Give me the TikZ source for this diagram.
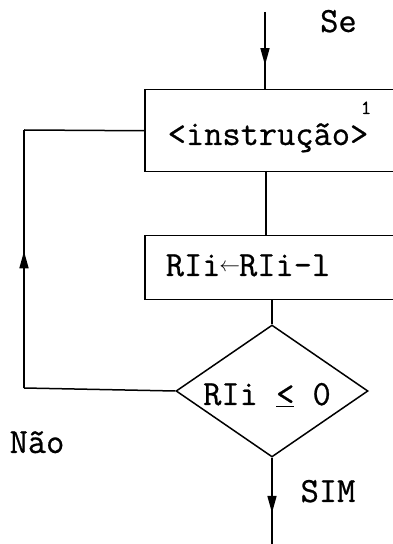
\documentclass[tikz,border=0pt]{standalone}
\usepackage{fontspec}
\newfontfamily\typer[FakeBold=0.7]{Latin Modern Mono}
\usetikzlibrary{shapes.geometric,arrows.meta,decorations.markings}
\newcommand{\assignarrow}{\makebox[0.525em]{\raisebox{0.12em}{\fontsize{20pt}{20pt}\selectfont$\leftarrow$}}}
\tikzset{
  flow/.style={line width=1.5pt},
  box/.style={draw, line width=1.5pt, rectangle, inner sep=0pt, anchor=north west},
  decision/.style={draw, line width=1.5pt, diamond, inner sep=0pt},
  txt/.style={font=\typer\fontsize{35.4pt}{38pt}\selectfont, inner sep=0pt, anchor=base},
  small/.style={font=\typer\fontsize{20pt}{22pt}\selectfont, inner sep=0pt, anchor=base},
  flowarrow/.style={postaction={decorate}, decoration={markings,
      mark=at position #1 with {\arrow{Triangle[length=17pt,width=9pt]}}}}
}
\begin{document}
\begin{tikzpicture}[x=1pt,y=1pt]
  \useasboundingbox (0,0) rectangle (393,544);
  \clip (0,0) rectangle (393,544);
  \fill[white] (0,0) rectangle (393,544);

  % blocks (they run on past the right margin)
  \node[box, minimum width=276pt, minimum height=82pt] (b1) at (144,455) {};
  \node[box, minimum width=276pt, minimum height=64pt] (b2) at (144,309) {};
  \node[decision, minimum width=192pt, minimum height=132pt] (d) at (272,153) {};

  % texts
  \node[txt, anchor=base west] (se) at (320,512) {Se};
  \node[txt] (t1) at (268,399) {<instrução>};
  \node[small] (n1) at (366,430) {1};
  \node[txt] (t2) at (248,268) {RIi\assignarrow RIi-l};
  \node[txt] (t3) at (267,139) {RIi \underline{<} 0};
  \node[txt] (nao) at (37,91) {Não};
  \node[txt] (sim) at (328,42) {SIM};

  % connectors
  \coordinate (in) at (265,532);
  \coordinate (out) at (276,0);
  \coordinate (lb) at (24,156);
  \coordinate (lt) at (24,414);

  \draw[flow, flowarrow=0.69] (in) -- (in |- b1.north);
  \draw[flow] (266,373) -- (266,309);
  \draw[flow] (d.north) -- (d.north |- b2.south);
  \draw[flow] (d.west) -- (lb);
  \draw[flow, flowarrow=0.53] (lb) -- (lt);
  \draw[flow] (lt) -- (b1.west);
  \draw[flow, flowarrow=0.64] (d.south) -- (d.south |- out);
\end{tikzpicture}
\end{document}
